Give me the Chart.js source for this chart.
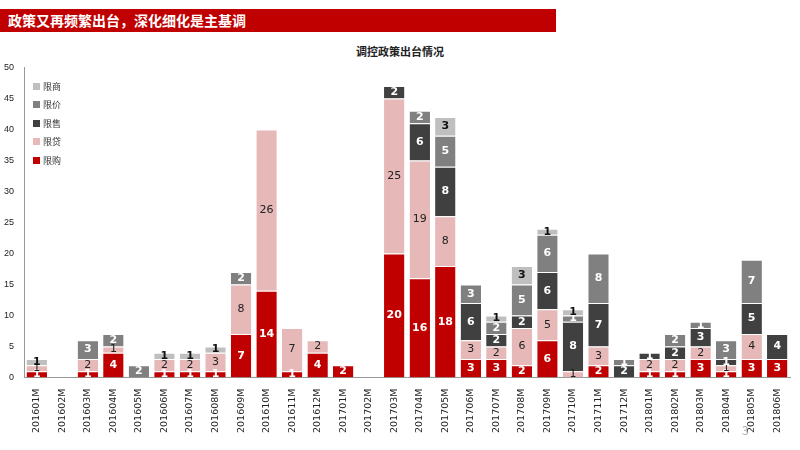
<!DOCTYPE html>
<html lang="zh">
<head>
<meta charset="UTF-8">
<script src="https://cdn.jsdelivr.net/npm/chart.js"></script>
<style>
  body { margin:0; width:800px; height:450px; background:#fff; font-family:"Noto Sans CJK SC","Noto Sans",sans-serif; position:relative; overflow:hidden; }
  .banner { position:absolute; left:0; top:9px; width:556px; height:23px; background:#c00000; color:#fff; font-weight:bold; font-size:14px; line-height:23px; padding-left:8px; box-sizing:border-box; }
  .title { position:absolute; left:0; width:800px; top:43px; text-align:center; font-size:11px; font-weight:bold; color:#222; }
  .chart-box { position:absolute; left:0; top:60px; width:800px; height:376px; }
  .legend { position:absolute; left:33px; top:77px; font-size:9px; color:#333; }
  .legend div { height:18.5px; display:flex; align-items:center; }
  .legend span { display:inline-block; width:7px; height:7px; margin-right:3px; }
  .page { position:absolute; left:742px; top:421px; font-size:12px; color:#aaa; }
</style>
</head>
<body>
<div class="banner">政策又再频繁出台，深化细化是主基调</div>
<div class="title">调控政策出台情况</div>
<div class="chart-box"><canvas id="c"></canvas></div>
<div class="legend" id="legend"></div>
<div class="page">3</div>
<script>
const months = ['201601M','201602M','201603M','201604M','201605M','201606M','201607M','201608M','201609M','201610M','201611M','201612M','201701M','201702M','201703M','201704M','201705M','201706M','201707M','201708M','201709M','201710M','201711M','201712M','201801M','201802M','201803M','201804M','201805M','201806M'];
const xiangou  = [1,0,1,4,0,1,1,1,7,14,1,4,2,0,20,16,18,3,3,2,6,0,2,0,1,1,3,1,3,3];
const xiandai  = [1,0,2,1,0,2,2,3,8,26,7,2,0,0,25,19,8,3,2,6,5,1,3,0,2,2,2,1,4,0];
const xianshou = [0,0,0,0,0,0,0,0,0,0,0,0,0,0,2,6,8,6,2,2,6,8,7,2,1,2,3,1,5,4];
const xianjia  = [0,0,3,2,2,0,0,0,2,0,0,0,0,0,0,2,5,3,2,5,6,1,8,1,0,2,1,3,7,0];
const xianshang= [1,0,0,0,0,1,1,1,0,0,0,0,0,0,0,0,3,0,1,3,1,1,0,0,0,0,0,0,0,0];
const yTicks = [0,5,10,15,20,25,30,35,40,45,50];

const series = [
  {label:'限购', data:xiangou, color:'#c00000', text:'#fff', bold:true},
  {label:'限贷', data:xiandai, color:'#e6b8b7', text:'#222', bold:false},
  {label:'限售', data:xianshou, color:'#404040', text:'#fff', bold:true},
  {label:'限价', data:xianjia, color:'#808080', text:'#fff', bold:true},
  {label:'限商', data:xianshang, color:'#bfbfbf', text:'#111', bold:true}
];

const legend = document.getElementById('legend');
series.slice().reverse().forEach(s => {
  const d = document.createElement('div');
  d.innerHTML = '<span style="background:' + s.color + '"></span>' + s.label;
  legend.appendChild(d);
});

const labelPlugin = {
  id: 'labels',
  afterDatasetsDraw(chart) {
    const ctx = chart.ctx;
    chart.data.datasets.forEach((ds, i) => {
      const meta = chart.getDatasetMeta(i);
      meta.data.forEach((bar, j) => {
        const v = ds.data[j];
        if (!v) return;
        const s = series[i];
        ctx.save();
        ctx.fillStyle = s.text;
        ctx.font = (s.bold ? 'bold ' : '') + '11px "DejaVu Sans", sans-serif';
        ctx.textAlign = 'center';
        ctx.textBaseline = 'middle';
        ctx.fillText(v, bar.x, (bar.y + bar.base) / 2);
        ctx.restore();
      });
    });
  }
};

new Chart(document.getElementById('c'), {
  type: 'bar',
  data: {
    labels: months,
    datasets: series.map(s => ({
      label: s.label, data: s.data, backgroundColor: s.color,
      borderColor: '#fff', borderWidth: {top:1, bottom:0, left:0, right:0},
      categoryPercentage: 1, barPercentage: 0.8
    }))
  },
  options: {
    responsive: true, maintainAspectRatio: false, animation: false,
    layout: { padding: {left:2, right:10, top:3, bottom:0} },
    plugins: { legend: {display:false}, tooltip: {enabled:false} },
    scales: {
      x: {
        stacked: true,
        grid: {display:false},
        border: {color:'#999'},
        ticks: {maxRotation:90, minRotation:90, color:'#222', font:{size:9.5, family:'"DejaVu Sans", sans-serif'}}
      },
      y: {
        stacked: true, min:0, max:50,
        afterBuildTicks: ax => { ax.ticks = yTicks.map(v => ({value:v})); },
        grid: {display:false},
        border: {color:'#999'},
        ticks: {color:'#222', font:{size:9}, padding:2}
      }
    }
  },
  plugins: [labelPlugin]
});
</script>
</body>
</html>
